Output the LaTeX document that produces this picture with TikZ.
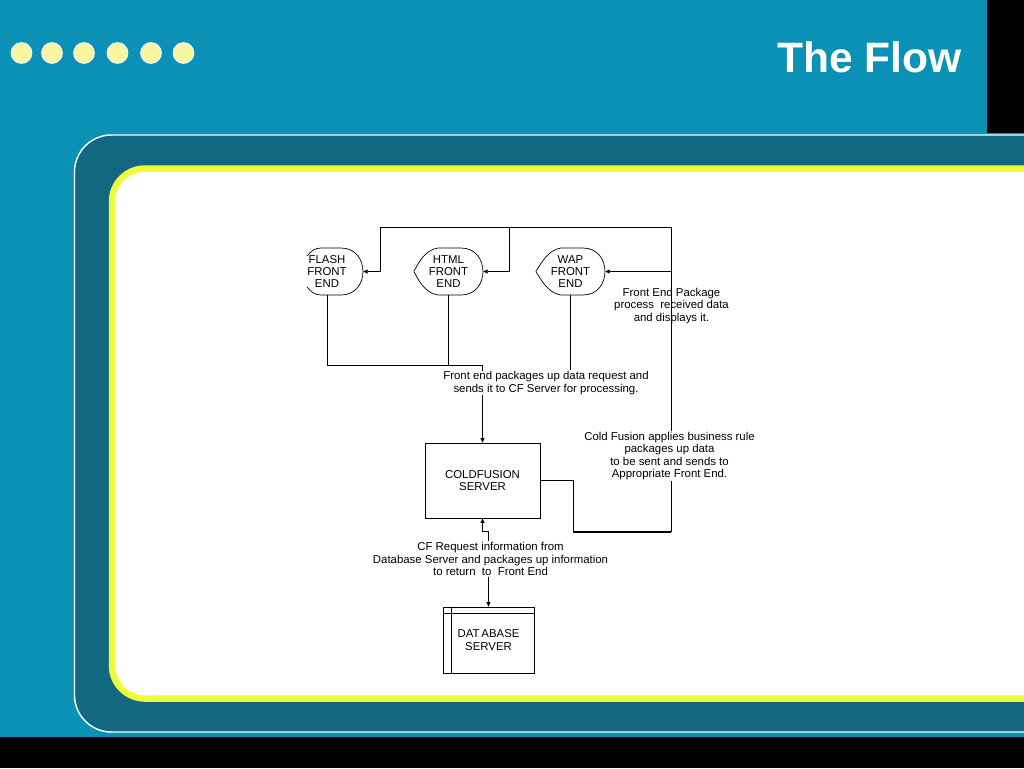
\documentclass[tikz,border=0pt]{standalone}
\usepackage{fontspec}
\setmainfont{Liberation Sans}
\usetikzlibrary{calc,arrows.meta}
\definecolor{bgteal}{RGB}{11,145,181}
\definecolor{dkteal}{RGB}{18,104,128}
\definecolor{ylw}{RGB}{238,250,60}
\definecolor{dotyl}{RGB}{250,246,160}
\begin{document}
\begin{tikzpicture}[x=1pt,y=-1pt,
  lbl/.style={font=\fontsize{11.4}{12.2}\selectfont, align=center, inner sep=1pt},
  fe/.style={lbl, inner sep=0pt, minimum height=47pt},
  box/.style={draw, lbl, line width=0.7pt},
  wire/.style={line width=0.7pt},
  thickwire/.style={line width=1.6pt},
  arr/.style={wire, -{Triangle[length=4.5pt,width=4pt]}},
  dot/.style={fill=dotyl, draw=white, line width=1pt},
]
\useasboundingbox (0,0) rectangle (1024,768);
% background
\fill[bgteal] (0,0) rectangle (1024,768);
\fill[black] (987,0) rectangle (1024,133);
\fill[black] (0,737) rectangle (1024,768);
% panels
\draw[white, line width=1.4pt, fill=dkteal, rounded corners=37pt]
  (1040,135) -- (74.5,135) -- (74.5,732) -- (1040,732);
\draw[ylw, line width=6.5pt, fill=white, rounded corners=33pt]
  (1040,168.5) -- (112,168.5) -- (112,698.5) -- (1040,698.5);
% dots
\foreach \cx in {21.5,52,84,117.5,151,183.5}
  \draw[dot] (\cx,53) circle[radius=10.3];
% title
\node[anchor=base east, text=white, inner sep=0pt,
  font=\fontsize{42.5}{43}\selectfont\bfseries] (title) at (962,72) {The Flow};

% front end nodes (text)
\node[fe, minimum width=72pt] (flash) at (327,271.5) {FLASH\\FRONT\\END};
\node[fe, minimum width=69pt] (html) at (448.5,271.5) {HTML\\FRONT\\END};
\node[fe, minimum width=69pt] (wap) at (570.5,271.5) {WAP\\FRONT\\END};
% display shapes
\draw[wire] (307,256) .. controls (311,251) and (315,248) .. (321,248) -- (341,248)
  .. controls (370.3,248) and (370.3,295) .. (341,295) -- (321,295)
  .. controls (315,295) and (311,292) .. (307,287);
\draw[wire] (html.west) .. controls (419,262) and (425,250) .. (438,248) -- (461,248)
  .. controls (490.3,248) and (490.3,295) .. (461,295) -- (438,295)
  .. controls (425,293) and (419,281) .. (html.west);
\draw[wire] (wap.west) .. controls (542,262) and (548,250) .. (561,248) -- (583,248)
  .. controls (612.3,248) and (612.3,295) .. (583,295) -- (561,295)
  .. controls (548,293) and (542,281) .. (wap.west);

% servers
\node[box, minimum width=115pt, minimum height=75pt] (cf) at (482.5,480.5) {COLDFUSION\\SERVER};
\node[box, minimum width=91pt, minimum height=66pt] (db) at (488.5,640) {DAT\kern2pt ABASE\\SERVER};
\draw[wire] ($(db.north west)+(0,7)$) -- ($(db.north east)+(0,7)$);
\draw[wire] ($(db.north west)+(9,0)$) -- ($(db.south west)+(9,0)$);

% coordinates
\coordinate (join) at (482.5,365);
\coordinate (tl) at (380,227);
\coordinate (tm) at (509,227);
\coordinate (tr) at (671,227);
\coordinate (br) at (671,532);
\coordinate (wapin) at (671,271.5);
\coordinate (jog) at (488.5,531);

% return loop
\draw[thickwire] (cf.east) -- ++(33,0) |- (br);
\draw[wire] (br) -- (tr) -- (tl);
\draw[arr] (tl) |- (flash.east);
\draw[arr] (tm) |- (html.east);
\draw[arr] (wapin) -- (wap.east);

% requests
\draw[wire] (flash.south) |- (join);
\draw[wire] (html.south) -- (html.south |- join);
\draw[arr] (join) -- (cf.north);

% labels
\node[lbl] (fepkg) at (671.5,306) {Front End Package\\process~ received data\\and displays it.};
\node[lbl, fill=white] (req) at (546,383) {Front end packages up data request and\\sends it to CF Server for processing.};
\draw[wire] (wap.south) -- (wap.south |- req.north);
\node[lbl, fill=white] (cfapply) at (669.5,456) {Cold Fusion applies business rule\\packages up data\\to be sent and sends to\\Appropriate Front End.};
\node[lbl, fill=white] (cfreq) at (490.5,559) {CF Request information from\\Database Server and packages up information\\to return~ to~ Front End};

\draw[arr] (cfreq.north -| jog) -- (jog) -| (cf.south);
\draw[arr] (cfreq.south -| db.north) -- (db.north);
\end{tikzpicture}
\end{document}
